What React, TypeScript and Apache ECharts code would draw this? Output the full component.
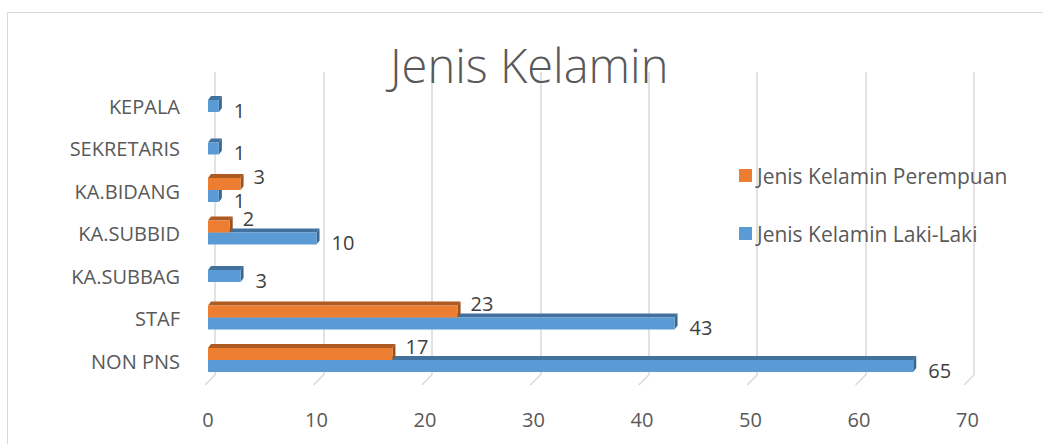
import React, { useEffect, useRef } from "react";
import * as echarts from "echarts";

const titleText = "Jenis Kelamin";
const categories = ["NON PNS", "STAF", "KA.SUBBAG", "KA.SUBBID", "KA.BIDANG", "SEKRETARIS", "KEPALA"];
const lakiLaki: (number | null)[] = [65, 43, 3, 10, 1, 1, 1];
const perempuan: (number | null)[] = [17, 23, null, 2, 3, null, null];
const xTicks = [0, 10, 20, 30, 40, 50, 60, 70];
const nameLaki = "Jenis Kelamin Laki-Laki";
const namePerempuan = "Jenis Kelamin Perempuan";

const FONT = "'Open Sans', 'Noto Sans', sans-serif";
const TEXT = "#595959";
const LABEL = "#404040";

const BLUE = { front: "#5B9BD5", top: "#41719C", side: "#3A6790" };
const ORANGE = { front: "#ED7D31", top: "#AE5A21", side: "#9C501C" };

const hasVal = (v: number | null) => v != null && v > 0;

function makeRender(isOrange: boolean) {
  const col = isOrange ? ORANGE : BLUE;
  return (params: any, api: any) => {
    const v = api.value(0);
    const c = api.value(1);
    const p0 = api.coord([0, c]);
    const p1 = api.coord([v, c]);
    const t = 12;
    const cy = p0[1];
    const paired = hasVal(lakiLaki[c]) && hasVal(perempuan[c]);
    let yTop: number;
    if (paired) yTop = isOrange ? cy - 1 - t : cy - 1;
    else yTop = cy - t / 2;
    const yb = yTop + t;
    const x0 = p0[0];
    const x1 = p1[0];
    const dx = 3;
    const dy = 4;
    const labelY = isOrange ? yTop + t / 2 - 8 : yTop + t / 2 + 4;
    const labelX = isOrange ? x1 + 13 : x1 + 15;
    return {
      type: "group",
      children: [
        {
          type: "polygon",
          shape: { points: [[x0, yTop], [x0 + dx, yTop - dy], [x1 + dx, yTop - dy], [x1, yTop]] },
          style: { fill: col.top },
        },
        {
          type: "polygon",
          shape: { points: [[x1, yTop], [x1 + dx, yTop - dy], [x1 + dx, yb - dy], [x1, yb]] },
          style: { fill: col.side },
        },
        {
          type: "rect",
          shape: { x: x0, y: yTop, width: x1 - x0, height: t },
          style: { fill: col.front },
        },
        {
          type: "text",
          x: labelX,
          y: labelY,
          style: {
            text: String(v),
            fill: LABEL,
            font: `20px ${FONT}`,
            align: "left",
            verticalAlign: "middle",
          },
        },
      ],
    };
  };
}

export default function App() {
  const ref = useRef<HTMLDivElement>(null);
  useEffect(() => {
    document.body.style.margin = "0";
    if (!ref.current) return;
    const chart = echarts.init(ref.current, undefined, { renderer: "svg" });
    const lakiData = lakiLaki
      .map((v, i) => (hasVal(v) ? [v, i] : null))
      .filter((d) => d != null);
    const perData = perempuan
      .map((v, i) => (hasVal(v) ? [v, i] : null))
      .filter((d) => d != null);
    chart.setOption({
      animation: false,
      backgroundColor: "#ffffff",
      title: {
        text: titleText,
        left: 385,
        top: 36,
        textStyle: { fontFamily: FONT, fontSize: 47, fontWeight: 300, color: TEXT },
      },
      legend: {
        orient: "vertical",
        left: 734,
        top: 160,
        itemWidth: 13,
        itemHeight: 13,
        itemGap: 37,
        icon: "rect",
        data: [namePerempuan, nameLaki],
        textStyle: { fontFamily: FONT, fontSize: 21, color: TEXT, lineHeight: 21 },
      },
      graphic: [
        {
          type: "rect",
          shape: { x: 7.5, y: 12.5, width: 1100, height: 500 },
          style: { fill: "none", stroke: "#D9D9D9", lineWidth: 1 },
          silent: true,
        },
      ],
      grid: [
        { left: 208, width: 759.5, top: 84.75, height: 297.5 },
        { left: 215, width: 759, top: 72, height: 303 },
      ],
      xAxis: [
        {
          type: "value",
          gridIndex: 0,
          min: 0,
          max: 70,
          interval: 10,
          axisLine: { show: false },
          axisTick: { show: false },
          splitLine: { show: false },
          axisLabel: { margin: 27, color: TEXT, fontSize: 20, fontFamily: FONT },
        },
        {
          type: "value",
          gridIndex: 1,
          min: 0,
          max: 70,
          interval: 10,
          axisLine: { show: false },
          axisTick: { show: false },
          axisLabel: { show: false },
          splitLine: { show: true, lineStyle: { color: "#D9D9D9", width: 1.5 } },
        },
      ],
      yAxis: [
        {
          type: "category",
          gridIndex: 0,
          data: categories,
          axisLine: { show: false },
          axisTick: { show: false },
          splitLine: { show: false },
          axisLabel: { margin: 28, color: TEXT, fontSize: 20, fontFamily: FONT },
        },
        {
          type: "value",
          gridIndex: 1,
          min: 0,
          max: 1,
          show: false,
          splitLine: { show: false },
        },
      ],
      series: [
        {
          type: "custom",
          name: "floor",
          xAxisIndex: 1,
          yAxisIndex: 1,
          silent: true,
          data: xTicks.map((v) => [v, 0]),
          renderItem: (params: any, api: any) => {
            const p = api.coord([api.value(0), api.value(1)]);
            return {
              type: "line",
              shape: { x1: p[0], y1: p[1], x2: p[0] - 10, y2: p[1] + 10 },
              style: { stroke: "#D9D9D9", lineWidth: 1.5 },
            };
          },
        },
        {
          type: "custom",
          name: nameLaki,
          xAxisIndex: 0,
          yAxisIndex: 0,
          itemStyle: { color: BLUE.front },
          encode: { x: 0, y: 1 },
          data: lakiData,
          renderItem: makeRender(false),
        },
        {
          type: "custom",
          name: namePerempuan,
          xAxisIndex: 0,
          yAxisIndex: 0,
          itemStyle: { color: ORANGE.front },
          encode: { x: 0, y: 1 },
          data: perData,
          renderItem: makeRender(true),
        },
      ],
    });
    return () => chart.dispose();
  }, []);
  return <div ref={ref} style={{ width: 1043, height: 444 }} />;
}
